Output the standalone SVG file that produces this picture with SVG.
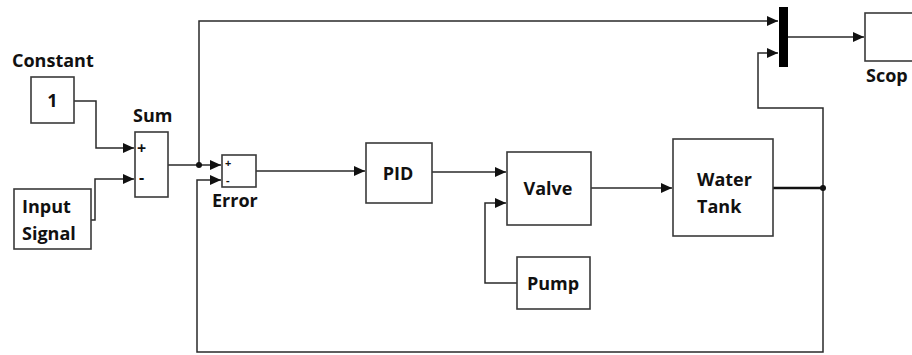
<svg xmlns="http://www.w3.org/2000/svg" width="912" height="355" viewBox="0 0 912 355">
<defs>
<marker id="arr" markerWidth="12" markerHeight="10" refX="11" refY="5" orient="auto" markerUnits="userSpaceOnUse">
<path d="M0,0 L11,5 L0,10 Z" fill="#111"/>
</marker>
<style>
.blk{fill:#fff;stroke:#3a3a3a;stroke-width:1.6}
.w{stroke:#2a2a2a;stroke-width:1.5;fill:none}
.t{font-family:"Open Sans",sans-serif;font-weight:700;font-size:18px;fill:#111}
.s{font-family:"Open Sans",sans-serif;font-weight:700;font-size:16px;fill:#111}
.e{font-family:"Open Sans",sans-serif;font-weight:700;font-size:11px;fill:#111}
</style>
</defs>
<rect width="912" height="355" fill="#fff"/>
<g id="connectors">
<path class="w" d="M74,101 H96 V148 H134" marker-end="url(#arr)"/>
<path class="w" d="M91,220 H95 V179 H134" marker-end="url(#arr)"/>
<path class="w" d="M168,165 H221" marker-end="url(#arr)"/>
<path class="w" d="M199,165 V21 H778" marker-end="url(#arr)"/>
<path class="w" d="M823,188 V352 H197 V180 H221" marker-end="url(#arr)"/>
<path class="w" d="M256,171 H365" marker-end="url(#arr)"/>
<path class="w" d="M432,172 H506" marker-end="url(#arr)"/>
<path class="w" d="M517,283 H485 V203 H506" marker-end="url(#arr)"/>
<path class="w" d="M591,188 H672" marker-end="url(#arr)"/>
<path stroke="#111" stroke-width="2.6" fill="none" d="M773,188 H823"/>
<path class="w" d="M823,188 V108 H758 V53 H778" marker-end="url(#arr)"/>
<path class="w" d="M788,37 H864" marker-end="url(#arr)"/>
<circle cx="199" cy="165" r="3" fill="#111"/>
<circle cx="823" cy="188" r="3" fill="#111"/>
</g>
<g id="constant">
<rect class="blk" x="31" y="77" width="43" height="46"/>
<text class="t" x="52.5" y="107" text-anchor="middle">1</text>
<text class="t" x="12" y="67">Constant</text>
</g>
<g id="input">
<rect class="blk" x="14" y="189" width="77" height="60"/>
<text class="t" x="22" y="213">Input</text>
<text class="t" x="22" y="240">Signal</text>
</g>
<g id="sum">
<rect class="blk" x="135" y="132" width="33" height="65"/>
<text class="t" x="133" y="122">Sum</text>
<text class="s" x="137" y="154">+</text>
<text class="s" x="139" y="183">-</text>
</g>
<g id="error">
<rect class="blk" x="222" y="155" width="34" height="32"/>
<text class="e" x="225" y="167">+</text>
<text class="e" x="226" y="184">-</text>
<text class="t" x="212" y="207">Error</text>
</g>
<g id="pid">
<rect class="blk" x="366" y="143" width="66" height="60"/>
<text class="t" x="398" y="180" text-anchor="middle">PID</text>
</g>
<g id="valve">
<rect class="blk" x="507" y="152" width="84" height="73"/>
<text class="t" x="548" y="195" text-anchor="middle">Valve</text>
</g>
<g id="pump">
<rect class="blk" x="517" y="257" width="73" height="52"/>
<text class="t" x="553" y="290" text-anchor="middle">Pump</text>
</g>
<g id="tank">
<rect class="blk" x="673" y="139" width="100" height="97"/>
<text class="t" x="697" y="186">Water</text>
<text class="t" x="697" y="213">Tank</text>
</g>
<g id="mux">
<rect x="779" y="7" width="9" height="60" fill="#000"/>
</g>
<g id="scope">
<rect class="blk" x="865" y="13" width="60" height="48"/>
<text class="t" x="866" y="82">Scop</text>
</g>
</svg>
